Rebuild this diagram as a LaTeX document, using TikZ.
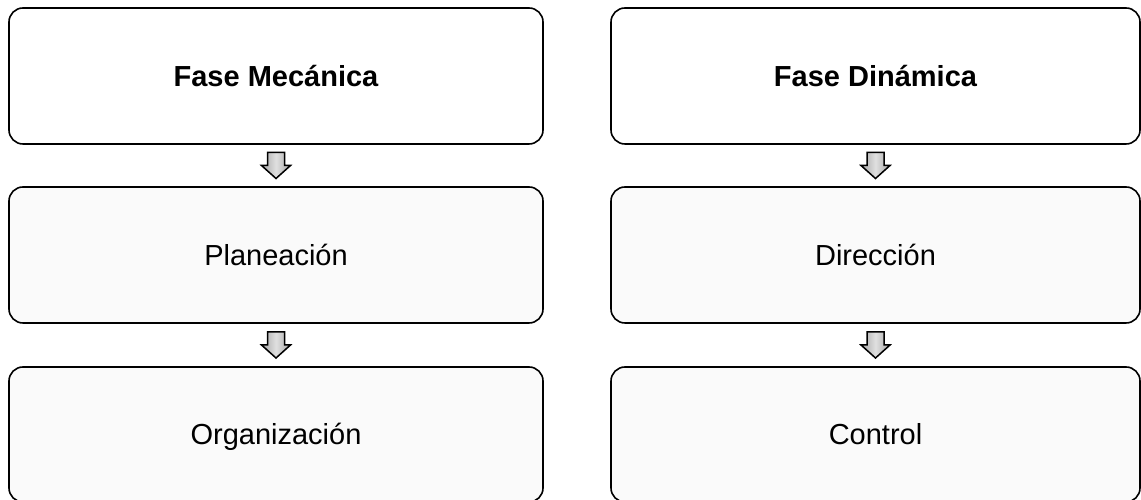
\documentclass[tikz,border=0pt]{standalone}
\usepackage{fontspec}
\setmainfont{Liberation Sans}
\usetikzlibrary{calc}
\tikzset{
  box/.style={draw=black, line width=1.6pt, rounded corners=14pt, inner sep=0pt, text height=20.8pt, text depth=0pt, font=\fontsize{29}{34}\selectfont},
  topbox/.style={box, fill=white, font=\fontsize{29}{34}\selectfont\bfseries},
  subbox/.style={box, fill=black!2},
  leftw/.style={minimum width=534pt},
  rightw/.style={minimum width=529pt},
  downarrow/.pic={
    \path[draw=black, line width=1.5pt, line join=miter, left color=black!35, right color=black!35, middle color=black!12]
      (-8.5,13) -- (8.5,13) -- (8.5,0) -- (14.5,0) -- (0,-13) -- (-14.5,0) -- (-8.5,0) -- cycle;
  }
}
\begin{document}
\begin{tikzpicture}[x=1pt,y=1pt]
\useasboundingbox (0,0) rectangle (1141,500);
\node[topbox, leftw, minimum height=136pt] (fm) at (276,424) {Fase Mecánica};
\node[subbox, leftw, minimum height=136pt] (pl) at (276,245) {Planeación};
\node[subbox, leftw, minimum height=135pt] (or) at (276,65.5) {Organización};
\node[topbox, rightw, minimum height=136pt] (fd) at (875.5,424) {Fase Dinámica};
\node[subbox, rightw, minimum height=136pt] (di) at (875.5,245) {Dirección};
\node[subbox, rightw, minimum height=135pt] (co) at (875.5,65.5) {Control};
\pic at ($(fm.south)!0.5!(pl.north)$) {downarrow};
\pic at ($(pl.south)!0.5!(or.north)$) {downarrow};
\pic at ($(fd.south)!0.5!(di.north)$) {downarrow};
\pic at ($(di.south)!0.5!(co.north)$) {downarrow};
\end{tikzpicture}
\end{document}
